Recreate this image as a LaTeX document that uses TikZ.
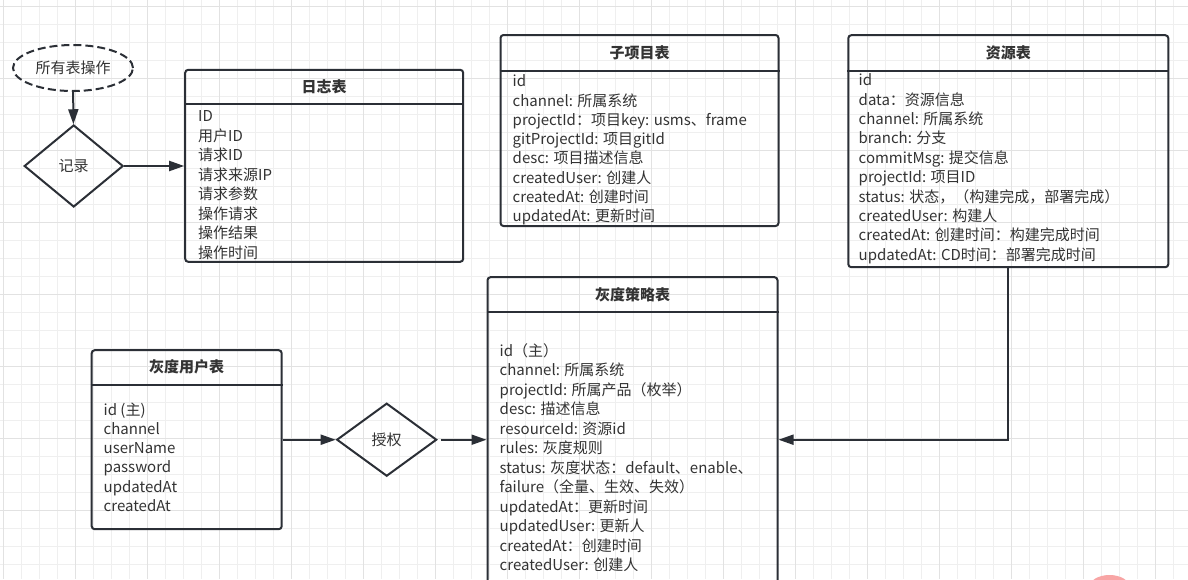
\documentclass[tikz,border=0pt]{standalone}
\usepackage{fontspec}
\setmainfont{Noto Sans CJK SC}
\usetikzlibrary{arrows.meta,positioning,shapes.geometric}
\definecolor{linecol}{HTML}{2B2F36}
\definecolor{txtcol}{HTML}{333333}
\definecolor{gridminor}{HTML}{EFEFEF}
\definecolor{gridmajor}{HTML}{E2E2E2}
\definecolor{blob}{HTML}{F8A5A5}

\begin{document}
\begin{tikzpicture}[x=1pt,y=-1pt,
  tbl/.style={rectangle, draw=linecol, line width=2pt, rounded corners=3pt, inner sep=0pt},
  tabletitle/.style={inner sep=0pt, font=\fontsize{15}{18}\selectfont\bfseries, text=txtcol},
  row/.style={anchor=west, inner sep=0pt, font=\fontsize{15}{18}\selectfont, text=txtcol, text height=12.5pt, text depth=2.5pt},
  decide/.style={diamond, draw=linecol, line width=2pt, inner sep=0pt, font=\fontsize{15}{18}\selectfont, text=txtcol},
  conn/.style={draw=linecol, line width=2pt, -{Triangle[length=15pt,width=10pt]}}]
  \clip (0,0) rectangle (1188,579);
  \fill[white] (0,0) rectangle (1188,579);

  % background grid
  \foreach \gx in {3.5,21.5,...,1188} \draw[gridminor, line width=0.8pt] (\gx,0) -- (\gx,579);
  \foreach \gy in {6,24,...,579} \draw[gridminor, line width=0.8pt] (0,\gy) -- (1188,\gy);
  \foreach \gx in {3.5,75.5,...,1188} \draw[gridmajor, line width=0.8pt] (\gx,0) -- (\gx,579);
  \foreach \gy in {6,78,...,579} \draw[gridmajor, line width=0.8pt] (0,\gy) -- (1188,\gy);
  \fill[blob] (1109.5,587) ellipse [x radius=20, y radius=12];

  % all operations -> log
  \node[ellipse, draw=linecol, line width=2pt, dash pattern=on 8pt off 4pt, minimum width=120pt, minimum height=46pt, inner sep=0pt,
        font=\fontsize{15}{18}\selectfont, text=txtcol] (allops) at (73,68) {所有表操作};
  \node[decide, minimum width=99pt, minimum height=82pt] (record) at (73.7,166) {记录};
  \draw[conn] (allops) -- (record);

  % log table
  \node[tbl, minimum width=278pt, minimum height=192pt] (log) at (324.2,165.8) {};
  \draw[linecol, line width=2pt] ([yshift=-35pt]log.north west) -- ([yshift=-35pt]log.north east);
  \node[tabletitle] (log-title) at ([yshift=-17.5pt]log.north) {日志表};
  \foreach \txt [count=\i from 0] in {ID,用户ID,请求ID,请求来源IP,请求参数,操作请求,操作结果,操作时间}
    \node[row] (log-\i) at (198,{116.7+19.5*\i}) {\txt};
  \draw[conn] (record.east) -- (record.east -| log.west);

  % sub project table
  \node[tbl, minimum width=278pt, minimum height=191pt] (sub) at (639.5,130.5) {};
  \draw[linecol, line width=2pt] ([yshift=-36.5pt]sub.north west) -- ([yshift=-36.5pt]sub.north east);
  \node[tabletitle] (sub-title) at ([yshift=-18.5pt]sub.north) {子项目表};
  \foreach \txt [count=\i from 0] in {id,{channel: 所属系统},{projectId：项目key: usms、frame},{gitProjectId: 项目gitId},
      {desc: 项目描述信息},{createdUser: 创建人},{createdAt: 创建时间},{updatedAt: 更新时间}}
    \node[row] (sub-\i) at (512.5,{81.7+19.3*\i}) {\txt};

  % resource table
  \node[tbl, minimum width=320pt, minimum height=232pt] (res) at (1008.3,151.2) {};
  \draw[linecol, line width=2pt] ([yshift=-36.5pt]res.north west) -- ([yshift=-36.5pt]res.north east);
  \node[tabletitle] (res-title) at ([yshift=-18.5pt]res.north) {资源表};
  \foreach \txt [count=\i from 0] in {id,{data：资源信息},{channel: 所属系统},{branch: 分支},{commitMsg: 提交信息},
      {projectId: 项目ID},{status: 状态，（构建完成，部署完成）},{createdUser: 构建人},
      {createdAt: 创建时间：构建完成时间},{updatedAt: CD时间：部署完成时间}}
    \node[row] (res-\i) at (858.5,{80.7+19.4*\i}) {\txt};

  % gray user table
  \node[tbl, minimum width=190pt, minimum height=179pt] (user) at (186.7,439.7) {};
  \draw[linecol, line width=2pt] ([yshift=-35.7pt]user.north west) -- ([yshift=-35.7pt]user.north east);
  \node[tabletitle] (user-title) at ([yshift=-18pt]user.north) {灰度用户表};
  \foreach \txt [count=\i from 0] in {id (主),channel,userName,password,updatedAt,createdAt}
    \node[row] (user-\i) at (103.5,{410+19.3*\i}) {\txt};

  % gray policy table
  \node[tbl, minimum width=290pt, minimum height=323pt] (policy) at (632.5,438.7) {};
  \draw[linecol, line width=2pt] ([yshift=-36pt]policy.north west) -- ([yshift=-36pt]policy.north east);
  \node[tabletitle] (policy-title) at ([yshift=-19pt]policy.north) {灰度策略表};
  \foreach \txt [count=\i from 0] in {id（主）,{channel: 所属系统},{projectId: 所属产品（枚举）},{desc: 描述信息},
      {resourceId: 资源id},{rules: 灰度规则},{status: 灰度状态：default、enable、},{failure（全量、生效、失效）},
      {updatedAt：更新时间},{updatedUser: 更新人},{createdAt：创建时间},{createdUser: 创建人}}
    \node[row] (policy-\i) at (499.5,{351+19.5*\i}) {\txt};

  % authorize
  \node[decide, minimum width=100pt, minimum height=73pt] (auth) at (386.7,439.7) {授权};
  \draw[conn] (user.east) -- (auth.west);
  \draw[conn, shorten <=3pt] (auth.east) -- (auth.east -| policy.west);
  \draw[conn] (res.south) |- (auth.east -| policy.east);
\end{tikzpicture}
\end{document}
